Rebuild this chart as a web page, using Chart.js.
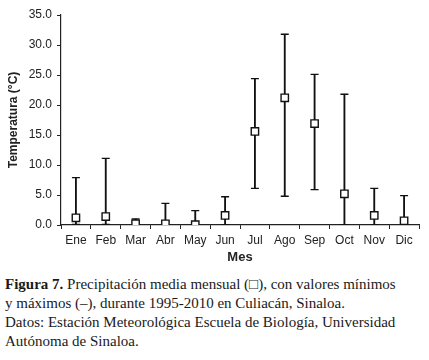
<!DOCTYPE html>
<html><head><meta charset="utf-8">
<script src="https://cdn.jsdelivr.net/npm/chart.js@4"></script>
<style>
html,body{margin:0;padding:0;background:#fff;width:429px;height:360px;overflow:hidden}
#wrap{position:relative;width:429px;height:265px}
#cap{font-family:"Liberation Serif",serif;font-size:15px;line-height:19px;color:#1a1a1a;padding:0 0 0 5px;margin-top:10px}
</style></head>
<body>
<div id="wrap"><canvas id="c" width="429" height="265"></canvas></div>
<div id="cap"><b>Figura 7.</b> Precipitación media mensual (□), con valores mínimos<br>y máximos (–), durante 1995-2010 en Culiacán, Sinaloa.<br>Datos: Estación Meteorológica Escuela de Biología, Universidad<br>Autónoma de Sinaloa.</div>
<script>
const months = ["Ene","Feb","Mar","Abr","May","Jun","Jul","Ago","Sep","Oct","Nov","Dic"];
const meanVals = [1.2, 1.4, 0.2, 0.2, 0.05, 1.6, 15.6, 21.2, 16.9, 5.2, 1.6, 0.7];
const minVals  = [0.1, 0.1, 0.0, 0.0, 0.0, 0.0, 6.1, 4.8, 5.9, 0.0, 0.0, 0.0];
const maxVals  = [7.9, 11.1, 1.0, 3.6, 2.4, 4.7, 24.4, 31.8, 25.1, 21.8, 6.1, 4.9];
const yTicks = [0, 5, 10, 15, 20, 25, 30, 35];

const tickFont = {family:"'Liberation Sans',sans-serif", size:12};
new Chart(document.getElementById('c'), {
  type:'bar',
  data:{
    labels: months,
    datasets:[
      {type:'line', label:'Media', data: meanVals, showLine:false, pointStyle:'rect', pointRadius:5.2, pointBackgroundColor:'#fff', pointBorderColor:'#111', pointBorderWidth:1.4, order:0},
      {type:'line', label:'Máx', data: maxVals, showLine:false, pointStyle:'line', pointRadius:4, pointBorderColor:'#111', pointBorderWidth:1.4, order:1},
      {type:'line', label:'Mín', data: minVals, showLine:false, pointStyle:'line', pointRadius:4, pointBorderColor:'#111', pointBorderWidth:1.4, order:1},
      {type:'bar', label:'Rango', data: months.map((m,i)=>[minVals[i], maxVals[i]]), backgroundColor:'#111', barThickness:1.2, order:2}
    ]
  },
  options:{
    responsive:false, animation:false,
    layout:{padding:{top:15, right:10, left:0, bottom:0}},
    plugins:{legend:{display:false}, tooltip:{enabled:false}},
    scales:{
      x:{
        offset:true,
        afterFit:(s)=>{s.height = 40;},
        grid:{display:true, drawOnChartArea:false, offset:true, color:'#222', tickLength:4, lineWidth:1},
        border:{display:true, color:'#222', width:1.2},
        ticks:{font:tickFont, color:'#222', padding:4},
        title:{display:true, text:'Mes', font:{family:"'Liberation Sans',sans-serif", size:13, weight:'bold'}, color:'#222', padding:{top:0,bottom:0}}
      },
      y:{
        min:0, max:35,
        afterFit:(s)=>{s.width = 61;},
        afterBuildTicks:(s)=>{s.ticks = yTicks.map(v=>({value:v}));},
        grid:{display:true, drawOnChartArea:false, color:'#222', tickLength:4},
        border:{display:true, color:'#222', width:1.2},
        ticks:{font:tickFont, color:'#222', padding:5, callback:(v)=>Number(v).toFixed(1)},
        title:{display:true, text:'Temperatura (°C)', font:{family:"'Liberation Sans',sans-serif", size:12, weight:'bold'}, color:'#222', padding:{top:6,bottom:4}}
      }
    }
  }
});
</script>
</body></html>
